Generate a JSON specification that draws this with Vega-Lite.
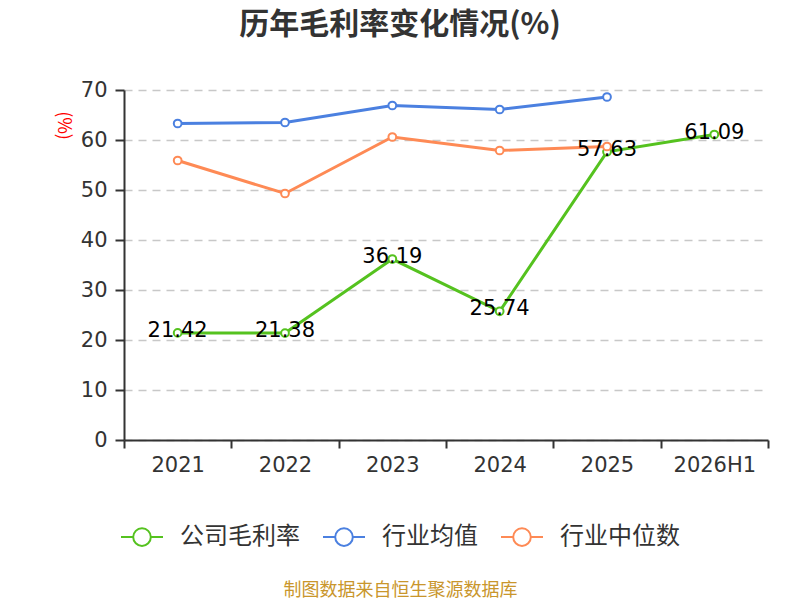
{
  "$schema": "https://vega.github.io/schema/vega-lite/v6.json",
  "width": 644,
  "height": 350,
  "autosize": {"type": "none"},
  "padding": {"left": 124, "top": 90, "right": 32, "bottom": 160},
  "background": "white",
  "config": {
    "font": "Noto Sans CJK SC",
    "view": {"stroke": null}
  },
  "title": {
    "text": "历年毛利率变化情况(%)",
    "fontSize": 30,
    "fontWeight": "bold",
    "color": "#333333",
    "anchor": "middle",
    "dx": -46,
    "offset": 39
  },
  "data": {
    "values": [
      {"year": "2021", "series": "公司毛利率", "value": 21.42},
      {"year": "2022", "series": "公司毛利率", "value": 21.38},
      {"year": "2023", "series": "公司毛利率", "value": 36.19},
      {"year": "2024", "series": "公司毛利率", "value": 25.74},
      {"year": "2025", "series": "公司毛利率", "value": 57.63},
      {"year": "2026H1", "series": "公司毛利率", "value": 61.09},
      {"year": "2021", "series": "行业均值", "value": 63.3},
      {"year": "2022", "series": "行业均值", "value": 63.5},
      {"year": "2023", "series": "行业均值", "value": 66.9},
      {"year": "2024", "series": "行业均值", "value": 66.1},
      {"year": "2025", "series": "行业均值", "value": 68.6},
      {"year": "2021", "series": "行业中位数", "value": 55.9},
      {"year": "2022", "series": "行业中位数", "value": 49.3},
      {"year": "2023", "series": "行业中位数", "value": 60.6},
      {"year": "2024", "series": "行业中位数", "value": 57.9},
      {"year": "2025", "series": "行业中位数", "value": 58.7}
    ]
  },
  "encoding": {
    "x": {
      "field": "year",
      "type": "nominal",
      "sort": ["2021", "2022", "2023", "2024", "2025", "2026H1"],
      "scale": {"paddingInner": 0, "paddingOuter": 0},
      "axis": {
        "title": "制图数据来自恒生聚源数据库",
        "titleColor": "#c9962c",
        "titleFont": "Noto Sans CJK SC",
        "titleFontSize": 18,
        "titleFontWeight": "normal",
        "titleX": 276,
        "titleY": 150,
        "titleAlign": "center",
        "titleBaseline": "middle",
        "labelAngle": 0,
        "labelFont": "DejaVu Sans",
        "labelFontSize": 21,
        "labelColor": "#333333",
        "labelPadding": 6,
        "domainColor": "#333333",
        "domainWidth": 2,
        "tickColor": "#333333",
        "tickWidth": 2,
        "tickSize": 8,
        "tickBand": "extent",
        "grid": false
      }
    },
    "y": {
      "field": "value",
      "type": "quantitative",
      "scale": {"domain": [0, 70]},
      "axis": {
        "values": [0, 10, 20, 30, 40, 50, 60, 70],
        "title": "(%)",
        "titleColor": "red",
        "titleFont": "Noto Sans CJK SC",
        "titleFontSize": 18,
        "titleFontWeight": "normal",
        "titleAngle": 90,
        "titleX": -62,
        "titleY": 35,
        "titleAlign": "center",
        "titleBaseline": "middle",
        "labelFont": "DejaVu Sans",
        "labelFontSize": 21,
        "labelColor": "#333333",
        "labelPadding": 8,
        "domainColor": "#333333",
        "domainWidth": 2,
        "tickColor": "#333333",
        "tickWidth": 2,
        "tickSize": 9,
        "grid": true,
        "gridColor": "#c8c8c8",
        "gridWidth": 1.5,
        "gridDash": [8, 6]
      }
    },
    "color": {
      "field": "series",
      "type": "nominal",
      "scale": {
        "domain": ["公司毛利率", "行业均值", "行业中位数"],
        "range": ["#55c21f", "#4b80e0", "#fe8a55"]
      },
      "legend": {
        "title": null,
        "orient": "none",
        "direction": "horizontal",
        "legendX": -4,
        "legendY": 425,
        "symbolType": "M-1,0L-0.42,0M0.42,0L1,0M-0.42,0A0.42,0.42,0,1,1,0.42,0A0.42,0.42,0,1,1,-0.42,0",
        "symbolSize": 1764,
        "symbolStrokeWidth": 2,
        "symbolFillColor": "#ffffff",
        "labelFontSize": 24,
        "labelColor": "#333333",
        "labelOffset": 16,
        "columnPadding": 19
      }
    }
  },
  "layer": [
    {"mark": {"type": "line", "strokeWidth": 3}},
    {"mark": {"type": "point", "filled": false, "fill": "#ffffff", "fillOpacity": 1, "opacity": 1, "size": 60, "strokeWidth": 2}},
    {
      "transform": [{"filter": "datum.series === '公司毛利率'"}],
      "mark": {"type": "text", "font": "DejaVu Sans", "fontSize": 21, "dy": -2, "baseline": "middle", "align": "center"},
      "encoding": {
        "text": {"field": "value", "type": "quantitative", "format": ".2f"},
        "color": {"value": "#000000"}
      }
    }
  ]
}
